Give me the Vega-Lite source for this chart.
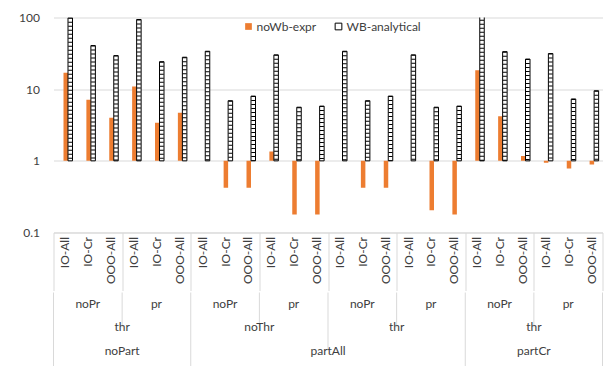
{
  "$schema": "https://vega.github.io/schema/vega-lite/v6.json",
  "background": "white",
  "padding": {"left": 18.5, "top": 11.5, "right": 0, "bottom": 0},
  "spacing": 0,
  "config": {
    "view": {"stroke": null},
    "font": "Lato",
    "legend": {"labelFont": "Lato", "labelFontSize": 12, "labelColor": "#404040", "symbolType": "square", "symbolSize": 45, "symbolStrokeWidth": 1, "labelOffset": 2, "columnPadding": 16, "padding": 0}
  },
  "datasets": {
    "bars": [
      {"k": "01|noPart|thr|noPr|IO-All", "noWb-expr": 16.9, "WB-analytical": 99},
      {"k": "02|noPart|thr|noPr|IO-Cr", "noWb-expr": 7.1, "WB-analytical": 40.6},
      {"k": "03|noPart|thr|noPr|OOO-All", "noWb-expr": 4.0, "WB-analytical": 29.4},
      {"k": "04|noPart|thr|pr|IO-All", "noWb-expr": 10.9, "WB-analytical": 93.8},
      {"k": "05|noPart|thr|pr|IO-Cr", "noWb-expr": 3.4, "WB-analytical": 24.2},
      {"k": "06|noPart|thr|pr|OOO-All", "noWb-expr": 4.7, "WB-analytical": 27.9},
      {"k": "07|partAll|noThr|noPr|IO-All", "noWb-expr": 1.0, "WB-analytical": 33.8},
      {"k": "08|partAll|noThr|noPr|IO-Cr", "noWb-expr": 0.42, "WB-analytical": 6.9},
      {"k": "09|partAll|noThr|noPr|OOO-All", "noWb-expr": 0.42, "WB-analytical": 8.0},
      {"k": "10|partAll|noThr|pr|IO-All", "noWb-expr": 1.35, "WB-analytical": 30.1},
      {"k": "11|partAll|noThr|pr|IO-Cr", "noWb-expr": 0.178, "WB-analytical": 5.6},
      {"k": "12|partAll|noThr|pr|OOO-All", "noWb-expr": 0.178, "WB-analytical": 5.8},
      {"k": "13|partAll|thr|noPr|IO-All", "noWb-expr": 1.0, "WB-analytical": 33.8},
      {"k": "14|partAll|thr|noPr|IO-Cr", "noWb-expr": 0.42, "WB-analytical": 6.9},
      {"k": "15|partAll|thr|noPr|OOO-All", "noWb-expr": 0.42, "WB-analytical": 8.0},
      {"k": "16|partAll|thr|pr|IO-All", "noWb-expr": 1.0, "WB-analytical": 30.1},
      {"k": "17|partAll|thr|pr|IO-Cr", "noWb-expr": 0.204, "WB-analytical": 5.6},
      {"k": "18|partAll|thr|pr|OOO-All", "noWb-expr": 0.178, "WB-analytical": 5.8},
      {"k": "19|partCr|thr|noPr|IO-All", "noWb-expr": 18.3, "WB-analytical": 120},
      {"k": "20|partCr|thr|noPr|IO-Cr", "noWb-expr": 4.2, "WB-analytical": 33.4},
      {"k": "21|partCr|thr|noPr|OOO-All", "noWb-expr": 1.17, "WB-analytical": 26.3},
      {"k": "22|partCr|thr|pr|IO-All", "noWb-expr": 0.94, "WB-analytical": 31.4},
      {"k": "23|partCr|thr|pr|IO-Cr", "noWb-expr": 0.78, "WB-analytical": 7.3},
      {"k": "24|partCr|thr|pr|OOO-All", "noWb-expr": 0.89, "WB-analytical": 9.5}
    ],
    "mid": [
      {"k": "02|noPart|thr|noPr|IO-Cr", "lvl": "pr", "t": "noPr"},
      {"k": "05|noPart|thr|pr|IO-Cr", "lvl": "pr", "t": "pr"},
      {"k": "08|partAll|noThr|noPr|IO-Cr", "lvl": "pr", "t": "noPr"},
      {"k": "11|partAll|noThr|pr|IO-Cr", "lvl": "pr", "t": "pr"},
      {"k": "14|partAll|thr|noPr|IO-Cr", "lvl": "pr", "t": "noPr"},
      {"k": "17|partAll|thr|pr|IO-Cr", "lvl": "pr", "t": "pr"},
      {"k": "20|partCr|thr|noPr|IO-Cr", "lvl": "pr", "t": "noPr"},
      {"k": "23|partCr|thr|pr|IO-Cr", "lvl": "pr", "t": "pr"}
    ],
    "edge": [
      {"k": "03|noPart|thr|noPr|OOO-All", "lvl": "thr", "t": "thr"},
      {"k": "09|partAll|noThr|noPr|OOO-All", "lvl": "thr", "t": "noThr"},
      {"k": "15|partAll|thr|noPr|OOO-All", "lvl": "thr", "t": "thr"},
      {"k": "21|partCr|thr|noPr|OOO-All", "lvl": "thr", "t": "thr"},
      {"k": "03|noPart|thr|noPr|OOO-All", "lvl": "part", "t": "noPart"},
      {"k": "12|partAll|noThr|pr|OOO-All", "lvl": "part", "t": "partAll"},
      {"k": "21|partCr|thr|noPr|OOO-All", "lvl": "part", "t": "partCr"}
    ],
    "seps": [
      {"k": "03|noPart|thr|noPr|OOO-All", "from": "pr", "to": "thr"},
      {"k": "06|noPart|thr|pr|OOO-All", "from": "pr", "to": "end"},
      {"k": "09|partAll|noThr|noPr|OOO-All", "from": "pr", "to": "thr"},
      {"k": "12|partAll|noThr|pr|OOO-All", "from": "pr", "to": "part"},
      {"k": "15|partAll|thr|noPr|OOO-All", "from": "pr", "to": "thr"},
      {"k": "18|partAll|thr|pr|OOO-All", "from": "pr", "to": "end"},
      {"k": "21|partCr|thr|noPr|OOO-All", "from": "pr", "to": "thr"},
      {"k": "24|partCr|thr|pr|OOO-All", "from": "pr", "to": "end"}
    ],
    "left": [
      {"k": "01|noPart|thr|noPr|IO-All", "from": "pr", "to": "end"}
    ]
  },
  "resolve": {"scale": {"x": "shared"}},
  "vconcat": [
    {
      "width": 549,
      "height": 215,
      "data": {"name": "bars"},
      "transform": [{"fold": ["noWb-expr", "WB-analytical"], "as": ["series", "value"]}],
      "encoding": {
        "x": {
          "field": "k", "type": "nominal", "title": null,
          "scale": {"paddingInner": 0, "paddingOuter": 0},
          "axis": {
            "labelExpr": "split(datum.value, '|')[4]",
            "labelAngle": 270, "labelPadding": -54, "labelFont": "Lato", "labelFontSize": 12, "labelColor": "#404040",
            "labelOverlap": false, "labelBound": false,
            "domainColor": "#d9d9d9", "domainWidth": 1,
            "ticks": true, "tickBand": "extent", "tickSize": 58, "tickColor": "#d9d9d9", "tickWidth": 1,
            "tickOpacity": {"condition": {"test": "!datum.value || indexof(['03','06','09','12','15','18','21','24'], slice(datum.value, 0, 2)) >= 0", "value": 1}, "value": 0}
          }
        },
        "xOffset": {"field": "series", "type": "nominal", "sort": ["noWb-expr", "WB-analytical"], "scale": {"range": [10, 19], "paddingInner": 0, "paddingOuter": 0}},
        "y": {
          "field": "value", "type": "quantitative", "title": null,
          "scale": {"type": "log", "domain": [0.1, 100], "nice": false},
          "axis": {"values": [0.1, 1, 10, 100], "format": "~g", "ticks": false, "domain": false, "grid": true, "gridColor": "#d9d9d9", "labelPadding": 14, "labelFont": "Lato", "labelFontSize": 12, "labelColor": "#404040"}
        },
        "y2": {"datum": 1}
      },
      "layer": [
        {
          "mark": {"type": "bar", "clip": true, "strokeWidth": 1},
          "encoding": {
            "fill": {
              "field": "series", "type": "nominal", "title": null,
              "scale": {"domain": ["noWb-expr", "WB-analytical"], "range": ["#ED7D31", "#ffffff"]},
              "legend": {"orient": "none", "direction": "horizontal", "legendX": 189, "legendY": 3, "title": null}
            },
            "stroke": {
              "field": "series", "type": "nominal", "title": null,
              "scale": {"domain": ["noWb-expr", "WB-analytical"], "range": ["transparent", "#000000"]},
              "legend": {"orient": "none", "direction": "horizontal", "legendX": 189, "legendY": 3, "title": null}
            }
          }
        },
        {
          "transform": [{"filter": "datum.series === 'WB-analytical'"}],
          "mark": {"type": "rule", "clip": true, "strokeWidth": 4, "strokeDash": [1, 3], "color": "#000000"}
        }
      ]
    },
    {
      "width": 549,
      "height": 93,
      "layer": [
        {
          "data": {"name": "seps"},
          "mark": {"type": "rule", "color": "#d9d9d9", "strokeWidth": 1},
          "encoding": {
            "x": {"field": "k", "type": "nominal", "bandPosition": 1, "axis": null},
            "y": {"field": "from", "type": "nominal", "bandPosition": 0, "axis": null, "scale": {"domain": ["pr", "thr", "part", "end"], "paddingInner": 0, "paddingOuter": 0}},
            "y2": {"field": "to"}
          }
        },
        {
          "data": {"name": "left"},
          "mark": {"type": "rule", "color": "#d9d9d9", "strokeWidth": 1},
          "encoding": {
            "x": {"field": "k", "type": "nominal", "bandPosition": 0, "axis": null},
            "y": {"field": "from", "type": "nominal", "bandPosition": 0, "axis": null},
            "y2": {"field": "to"}
          }
        },
        {
          "data": {"name": "mid"},
          "mark": {"type": "text", "font": "Lato", "fontSize": 12, "color": "#404040", "baseline": "middle", "align": "center"},
          "encoding": {
            "x": {"field": "k", "type": "nominal", "bandPosition": 0.5, "axis": null},
            "y": {"field": "lvl", "type": "nominal", "axis": null},
            "text": {"field": "t"}
          }
        },
        {
          "data": {"name": "edge"},
          "mark": {"type": "text", "font": "Lato", "fontSize": 12, "color": "#404040", "baseline": "middle", "align": "center"},
          "encoding": {
            "x": {"field": "k", "type": "nominal", "bandPosition": 1, "axis": null},
            "y": {"field": "lvl", "type": "nominal", "axis": null},
            "text": {"field": "t"}
          }
        }
      ]
    }
  ]
}
